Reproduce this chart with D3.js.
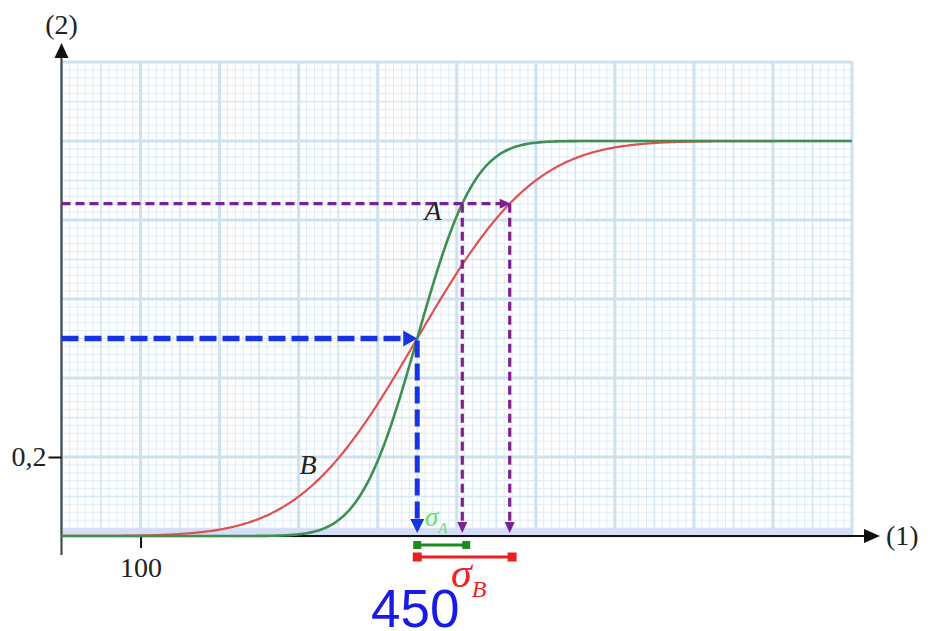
<!DOCTYPE html>
<html>
<head>
<meta charset="utf-8">
<script src="https://cdn.jsdelivr.net/npm/d3@7"></script>
<style>
  html, body { margin: 0; padding: 0; background: #fff; }
  svg { display: block; }
</style>
</head>
<body>
<svg id="chart" width="931" height="631"></svg>
<script>
// ---- data ----
const meanValue = 450;
const sigmaA = 57;               // curve A (green)
const sigmaB = 117;              // curve B (red)
const xDomain = [0, 1000];
const yDomain = [0, 1.2];
const xTickValues = [100];
const xTickLabels = ["100"];
const yTickValues = [0.2];
const yTickLabels = ["0,2"];
const sigmaBarA = [450, 512];
const sigmaBarB = [450, 570];
const quantileLevel = 0.8413;    // level read at mean + sigma

// ---- layout ----
const svg = d3.select("#chart");
const x = d3.scaleLinear().domain(xDomain).range([61.5, 852]);
const y = d3.scaleLinear().domain(yDomain).range([536, 62]);
const serif = "'Liberation Serif', 'DejaVu Serif', serif";
const sans = "'Liberation Sans', Arial, sans-serif";

// ---- millimetre grid ----
const grid = svg.append("g");
const minorX = d3.range(0, 1001, 10);
const minorY = d3.range(0, 61).map(i => i * 0.02);
function gridStyle(i) {
  if (i % 10 === 0) return { lv: 2, w: 3, c: "#cde2f1" };
  if (i % 5 === 0) return { lv: 1, w: 1.6, c: "#d3e6f3" };
  return { lv: 0, w: 1, c: "#dcecf7" };
}
// minor first, then heavier lines on top
[0, 1, 2].forEach(level => {
  minorX.forEach((v, i) => {
    const s = gridStyle(i);
    if (s.lv !== level) return;
    grid.append("line")
      .attr("x1", x(v)).attr("x2", x(v))
      .attr("y1", y(yDomain[1])).attr("y2", y(0))
      .attr("stroke", s.c).attr("stroke-width", s.w);
  });
  minorY.forEach((v, i) => {
    const s = gridStyle(i);
    if (s.lv !== level) return;
    grid.append("line")
      .attr("x1", x(0)).attr("x2", x(xDomain[1]))
      .attr("y1", y(v)).attr("y2", y(v))
      .attr("stroke", s.c).attr("stroke-width", s.w);
  });
});
// shaded strip along the bottom of the grid
grid.append("rect")
  .attr("x", x(0)).attr("y", y(0.02))
  .attr("width", x(xDomain[1]) - x(0)).attr("height", y(0) - y(0.02))
  .attr("fill", "#d6ddf7");

// ---- axes ----
const axisG = svg.append("g");
// y axis line + arrow
axisG.append("line")
  .attr("x1", x(0)).attr("x2", x(0))
  .attr("y1", 555).attr("y2", 56)
  .attr("stroke", "#4a4a4a").attr("stroke-width", 2.2);
axisG.append("path")
  .attr("d", `M${x(0)},43 L${x(0) - 7},58 L${x(0) + 7},58 Z`)
  .attr("fill", "#111");
// x axis line + arrow
axisG.append("line")
  .attr("x1", x(0)).attr("x2", 866)
  .attr("y1", y(0)).attr("y2", y(0))
  .attr("stroke", "#111").attr("stroke-width", 2);
axisG.append("path")
  .attr("d", `M880,${y(0)} L864,${y(0) - 7} L864,${y(0) + 7} Z`)
  .attr("fill", "#111");

// ticks through d3 axes
const xAxis = d3.axisBottom(x).tickValues(xTickValues)
  .tickSize(12).tickPadding(9)
  .tickFormat((d, i) => xTickLabels[i]);
const gx = svg.append("g").attr("transform", `translate(0,${y(0)})`).call(xAxis);
gx.select(".domain").remove();
gx.selectAll(".tick line").attr("stroke", "#111").attr("stroke-width", 2);
gx.selectAll(".tick text")
  .attr("font-family", serif).attr("font-size", 28).attr("fill", "#222");

const yAxis = d3.axisLeft(y).tickValues(yTickValues)
  .tickSize(13).tickPadding(2)
  .tickFormat((d, i) => yTickLabels[i]);
const gy = svg.append("g").attr("transform", `translate(${x(0)},0)`).call(yAxis);
gy.select(".domain").remove();
gy.selectAll(".tick line").attr("stroke", "#111").attr("stroke-width", 2);
gy.selectAll(".tick text")
  .attr("font-family", serif).attr("font-size", 28).attr("fill", "#222");

// axis names
svg.append("text").attr("x", x(0)).attr("y", 34)
  .attr("text-anchor", "middle")
  .attr("font-family", serif).attr("font-size", 28).attr("fill", "#222")
  .text("(2)");
svg.append("text").attr("x", 886).attr("y", 545)
  .attr("font-family", serif).attr("font-size", 28).attr("fill", "#222")
  .text("(1)");

// ---- cumulative normal curves ----
function erf(z) {
  const t = 1 / (1 + 0.3275911 * Math.abs(z));
  const p = 1 - (((((1.061405429 * t - 1.453152027) * t) + 1.421413741) * t - 0.284496736) * t + 0.254829592) * t * Math.exp(-z * z);
  return z >= 0 ? p : -p;
}
const cdf = (v, m, s) => 0.5 * (1 + erf((v - m) / (s * Math.SQRT2)));
const xs = d3.range(xDomain[0], xDomain[1] + 0.1, 2);
const line = d3.line().x(d => x(d[0])).y(d => y(d[1]));

svg.append("path")
  .datum(xs.map(v => [v, cdf(v, meanValue, sigmaB)]))
  .attr("d", line).attr("fill", "none")
  .attr("stroke", "#e0504e").attr("stroke-width", 2.2);
svg.append("path")
  .datum(xs.map(v => [v, cdf(v, meanValue, sigmaA)]))
  .attr("d", line).attr("fill", "none")
  .attr("stroke", "#3f8f50").attr("stroke-width", 2.6);

// ---- reading lines ----
const purple = "#7b2190";
const yq = y(quantileLevel);
const xA = x(meanValue + sigmaA);
const xB = x(meanValue + sigmaB);
function dashed(x1, y1, x2, y2, color, w, dash) {
  svg.append("line").attr("x1", x1).attr("y1", y1).attr("x2", x2).attr("y2", y2)
    .attr("stroke", color).attr("stroke-width", w).attr("stroke-dasharray", dash);
}
function arrowRight(tx, ty, len, hw, color) {
  svg.append("path").attr("d", `M${tx},${ty} L${tx - len},${ty - hw} L${tx - len},${ty + hw} Z`).attr("fill", color);
}
function arrowDown(tx, ty, len, hw, color) {
  svg.append("path").attr("d", `M${tx},${ty} L${tx - hw},${ty - len} L${tx + hw},${ty - len} Z`).attr("fill", color);
}
dashed(x(0), yq, xB - 9, yq, purple, 3.2, "9,5");
arrowRight(xB + 1, yq, 11, 5, purple);
dashed(xA, yq, xA, y(0) - 12, purple, 3.2, "9,5");
arrowDown(xA, y(0) - 3, 11, 5, purple);
dashed(xB, yq, xB, y(0) - 12, purple, 3.2, "9,5");
arrowDown(xB, y(0) - 3, 11, 5, purple);

const blue = "#1733e6";
const xm = x(meanValue);
const ym = y(0.5);
dashed(x(0), ym, xm - 12, ym, blue, 5.5, "17,6");
arrowRight(xm, ym, 14, 8, blue);
dashed(xm, ym + 2, xm, y(0) - 14, blue, 5, "17,6");
arrowDown(xm, y(0) - 3, 14, 7, blue);

// ---- curve names ----
svg.append("text").attr("x", 433).attr("y", 220).attr("text-anchor", "middle")
  .attr("font-family", serif).attr("font-style", "italic").attr("font-size", 28).attr("fill", "#222")
  .text("A");
svg.append("text").attr("x", 308).attr("y", 474).attr("text-anchor", "middle")
  .attr("font-family", serif).attr("font-style", "italic").attr("font-size", 28).attr("fill", "#222")
  .text("B");

// ---- sigma bars ----
function sigmaBar(range, yPos, color, w, sq) {
  const g = svg.append("g");
  g.append("line").attr("x1", x(range[0])).attr("x2", x(range[1]))
    .attr("y1", yPos).attr("y2", yPos).attr("stroke", color).attr("stroke-width", w);
  range.forEach(v => g.append("rect")
    .attr("x", x(v) - sq / 2).attr("y", yPos - sq / 2)
    .attr("width", sq).attr("height", sq).attr("fill", color));
}
sigmaBar(sigmaBarA, 545, "#1c8c22", 3, 8);
sigmaBar(sigmaBarB, 557, "#ee1c1c", 3, 9);

const sA = svg.append("text").attr("x", 425).attr("y", 526)
  .attr("font-family", serif).attr("font-style", "italic").attr("fill", "#5fe46b");
sA.append("tspan").attr("font-size", 27).text("σ");
sA.append("tspan").attr("font-size", 15).attr("dy", 7).text("A");

const sB = svg.append("text").attr("x", 451).attr("y", 587)
  .attr("font-family", serif).attr("font-style", "italic").attr("fill", "#ee2222");
sB.append("tspan").attr("font-size", 42).text("σ");
sB.append("tspan").attr("font-size", 24).attr("dy", 10).text("B");

// ---- mean value ----
svg.append("text").attr("x", xm - 2).attr("y", 627).attr("text-anchor", "middle")
  .attr("font-family", sans).attr("font-size", 53).attr("fill", "#1a1ae6")
  .text("450");
</script>
</body>
</html>
